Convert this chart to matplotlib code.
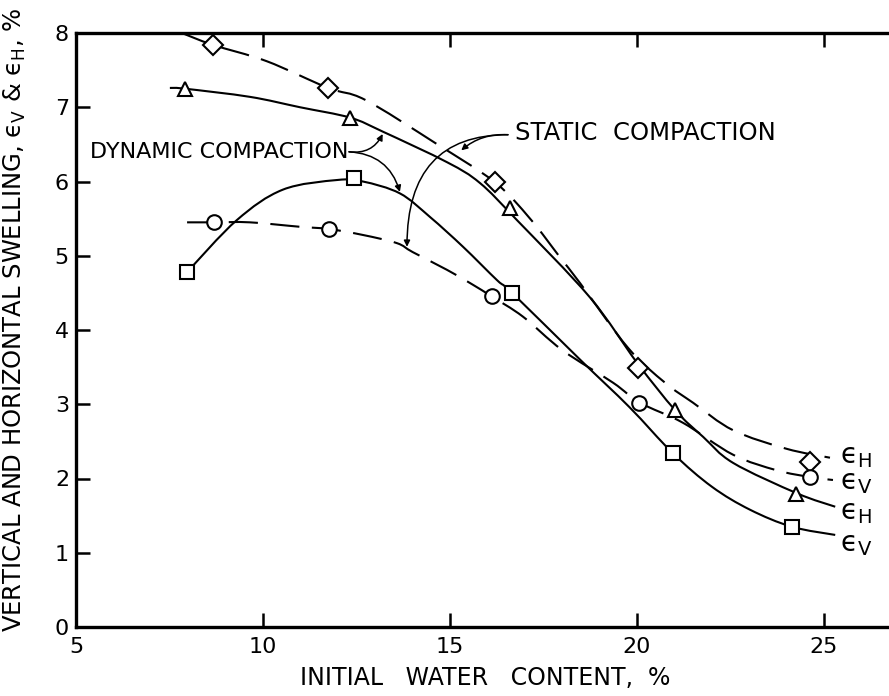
import numpy as np
import matplotlib
matplotlib.use("Agg")
import matplotlib.pyplot as plt
from matplotlib.path import Path
from matplotlib.patches import PathPatch

# ---- traced curves (initial water content %, swelling %) ----
dyn_h_x = [7.51, 7.91, 9.65, 10.99, 12.33, 13.21, 14.92, 15.8, 16.79, 18.74, 20.0, 21.02, 21.77, 22.57, 24.28, 25.3]
dyn_h_y = [7.26, 7.25, 7.14, 7.00, 6.86, 6.67, 6.26, 5.98, 5.48, 4.44, 3.56, 2.92, 2.56, 2.21, 1.80, 1.62]

stat_h_x = [7.83, 8.66, 10.1, 11.74, 12.73, 14.6, 16.2, 17.14, 17.94, 18.48, 19.76, 20.75, 21.5, 22.57, 24.0, 25.16]
stat_h_y = [8.0, 7.84, 7.62, 7.26, 7.10, 6.52, 5.99, 5.50, 4.98, 4.63, 3.76, 3.29, 3.02, 2.65, 2.40, 2.28]

dyn_v_x = [7.97, 9.3, 10.53, 11.98, 12.67, 13.66, 14.47, 15.35, 16.26, 16.66, 18.48, 19.8, 20.96, 22.0, 23.02, 24.14, 25.3]
dyn_v_y = [4.78, 5.48, 5.89, 6.02, 6.00, 5.84, 5.52, 5.12, 4.67, 4.50, 3.60, 2.96, 2.34, 1.89, 1.58, 1.35, 1.24]

stat_v_x = [7.97, 8.69, 9.65, 10.99, 11.76, 12.67, 13.58, 14.0, 14.92, 15.61, 16.12, 16.95, 18.0, 19.36, 20.08, 21.23, 22.57, 23.74, 24.63, 25.24]
stat_v_y = [5.45, 5.45, 5.45, 5.39, 5.36, 5.28, 5.17, 5.05, 4.81, 4.61, 4.45, 4.18, 3.73, 3.29, 3.02, 2.75, 2.32, 2.11, 2.02, 1.98]

# ---- measured points ----
diamond_x = [8.66, 11.74, 16.2, 20.03, 24.63]
diamond_y = [7.84, 7.26, 5.99, 3.49, 2.22]
triangle_x = [7.91, 12.33, 16.6, 21.02, 24.25]
triangle_y = [7.25, 6.86, 5.64, 2.92, 1.79]
square_x = [7.97, 12.43, 16.66, 20.96, 24.14]
square_y = [4.78, 6.05, 4.50, 2.34, 1.35]
circle_x = [8.69, 11.76, 16.12, 20.06, 24.63]
circle_y = [5.45, 5.36, 4.46, 3.02, 2.02]

x_ticks = [5, 10, 15, 20, 25]
y_ticks = [0, 1, 2, 3, 4, 5, 6, 7, 8]

LW = 1.5
DASH = (0, (14, 6))

EPS_H = r"$\mathrm{ϵ}_{\mathrm{H}}$"
EPS_V = r"$\mathrm{ϵ}_{\mathrm{V}}$"


def smooth_path(xs, ys):
    """Catmull-Rom through the traced points, expressed as cubic Bezier segments."""
    p = np.column_stack([xs, ys]).astype(float)
    verts = [p[0]]
    codes = [Path.MOVETO]
    n = len(p)
    for i in range(n - 1):
        p0 = p[i - 1] if i > 0 else p[i]
        p1 = p[i]
        p2 = p[i + 1]
        p3 = p[i + 2] if i + 2 < n else p[i + 1]
        c1 = p1 + (p2 - p0) / 6.0
        c2 = p2 - (p3 - p1) / 6.0
        verts += [c1, c2, p2]
        codes += [Path.CURVE4] * 3
    return Path(verts, codes)


fig = plt.figure(figsize=(8.89, 6.96), dpi=100)
ax = fig.add_axes([76 / 889, 1 - 627 / 696, 1 - 76 / 889, (627 - 33) / 696])
ax.set_xlim(5, 5 + (889 - 76) / 37.4)
ax.set_ylim(0, 8)

for xs, ys, ls in [(dyn_h_x, dyn_h_y, "-"), (stat_h_x, stat_h_y, DASH),
                   (dyn_v_x, dyn_v_y, "-"), (stat_v_x, stat_v_y, DASH)]:
    ax.add_patch(PathPatch(smooth_path(xs, ys), fill=False, lw=LW,
                           edgecolor="black", linestyle=ls, capstyle="butt", zorder=2))

mk = dict(linestyle="none", markerfacecolor="white", markeredgecolor="black",
          markeredgewidth=1.5, zorder=3)
ax.plot(diamond_x, diamond_y, marker="D", markersize=10.5, **mk)
ax.plot(triangle_x, triangle_y, marker="^", markersize=10, **mk)
ax.plot(square_x, square_y, marker="s", markersize=10.5, **mk)
ax.plot(circle_x, circle_y, marker="o", markersize=10.5, **mk)

# curve end labels
lab = dict(fontsize=20, ha="left", va="center")
ax.text(25.43, (627 - 456) / 74.25, EPS_H, **lab)
ax.text(25.43, (627 - 482) / 74.25, EPS_V, **lab)
ax.text(25.43, (627 - 512) / 74.25, EPS_H, **lab)
ax.text(25.43, (627 - 544) / 74.25, EPS_V, **lab)

# annotations
ax.text(5.37, 6.40, "DYNAMIC COMPACTION", fontsize=16, ha="left", va="center")
ax.text(16.74, 6.65, "STATIC  COMPACTION", fontsize=17.5, ha="left", va="center")

arr = dict(arrowstyle="-|>", color="black", lw=1.1, mutation_scale=9,
           shrinkA=0, shrinkB=0)
ax.annotate("", xy=(13.2, 6.64), xytext=(12.3, 6.40),
            arrowprops=dict(connectionstyle="arc3,rad=0.35", **arr))
ax.annotate("", xy=(13.66, 5.86), xytext=(12.3, 6.40),
            arrowprops=dict(connectionstyle="arc3,rad=-0.35", **arr))
ax.annotate("", xy=(15.3, 6.42), xytext=(16.55, 6.63),
            arrowprops=dict(connectionstyle="arc3,rad=0.2", **arr))
ax.annotate("", xy=(13.85, 5.12), xytext=(16.55, 6.63),
            arrowprops=dict(connectionstyle="angle3,angleA=0,angleB=90", **arr))

# axes styling
for side in ("left", "bottom", "top"):
    ax.spines[side].set_linewidth(2.4)
ax.spines["right"].set_visible(False)
ax.set_xticks(x_ticks)
ax.set_yticks(y_ticks)
ax.set_xticklabels([str(v) for v in x_ticks])
ax.set_yticklabels([str(v) for v in y_ticks])
ax.tick_params(axis="both", direction="in", length=10, width=1.8, labelsize=16)
ax.tick_params(axis="x", top=True, pad=7)
ax.tick_params(axis="y", pad=5)

ax.set_xlabel("INITIAL   WATER   CONTENT,  %", fontsize=17)
ax.xaxis.set_label_coords((485 - 76) / 813, (627 - 666) / 594)
ax.set_ylabel("VERTICAL AND HORIZONTAL SWELLING, " + EPS_V + " & " + EPS_H + ", %",
              fontsize=17.5)
ax.yaxis.set_label_coords((28 - 76) / 813, (627 - 320) / 594)

fig.savefig("out.png", dpi=100)
